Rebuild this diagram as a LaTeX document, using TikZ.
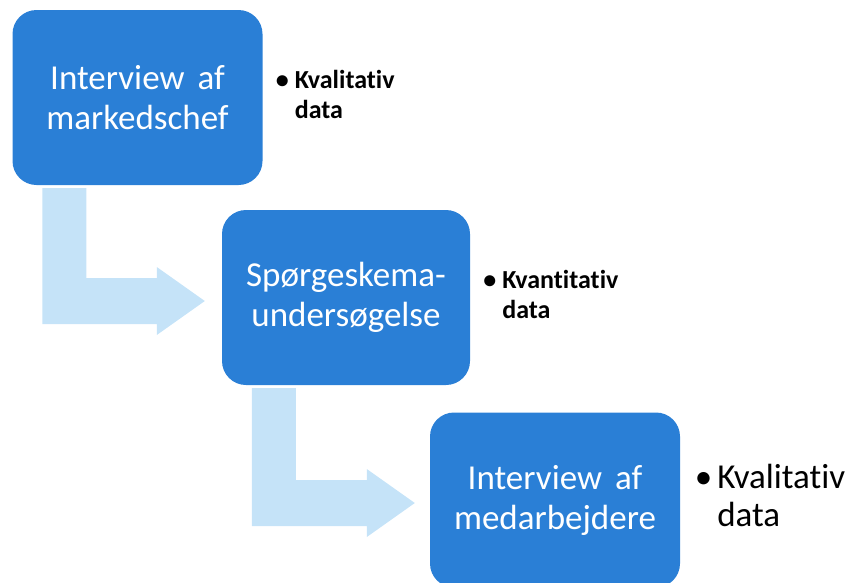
\documentclass[tikz,border=0pt]{standalone}
\usepackage{fontspec}
\setmainfont{Carlito}[RawFeature={-liga}]
\usetikzlibrary{calc}
\definecolor{boxblue}{RGB}{42,127,214}
\definecolor{arrowblue}{RGB}{197,227,248}
\tikzset{
  stepbox/.style={fill=boxblue, rounded corners=24pt, minimum width=250pt,
    minimum height=175pt, text=white, align=center, inner sep=0pt,
    font=\fontsize{35}{40}\selectfont},
  bentarrow/.style={fill=arrowblue},
  note/.style={anchor=west, inner sep=0pt, align=left},
  smallnote/.style={note, font=\bfseries\fontsize{26}{30}\selectfont},
  bignote/.style={note, font=\fontsize{35}{38}\selectfont},
}
\begin{document}
\begin{tikzpicture}[x=1pt,y=-1pt]
\clip (0,0) rectangle (850,582);
\node[stepbox] (b1) at (137.5,97.5) {Interview\hspace{13pt}af\\markedschef};
\node[stepbox, minimum width=248pt] (b2) at (346,297.5) {Spørgeskema-\\undersøgelse};
\node[stepbox] (b3) at (555,500) {Interview\hspace{13pt}af\\medarbejdere};
% bent arrows
\coordinate (s1) at ($(b1.south west)+(30,3)$);
\coordinate (t1) at ($(b2.west)+(-17,3.5)$);
\coordinate (s2) at ($(b2.south west)+(30,3)$);
\coordinate (t2) at ($(b3.west)+(-15,3)$);
\fill[bentarrow] let \p1=(s1), \p2=(t1) in
  (\x1,\y1) -- (\x1+44pt,\y1) -- (\x1+44pt,\y2+23pt) -- (\x2-48pt,\y2+23pt)
  -- (\x2-48pt,\y2+34pt) -- (\x2,\y2) -- (\x2-48pt,\y2-34pt)
  -- (\x2-48pt,\y2-23pt) -- (\x1,\y2-23pt) -- cycle;
\fill[bentarrow] let \p1=(s2), \p2=(t2) in
  (\x1,\y1) -- (\x1+44pt,\y1) -- (\x1+44pt,\y2+23pt) -- (\x2-48pt,\y2+23pt)
  -- (\x2-48pt,\y2+34pt) -- (\x2,\y2) -- (\x2-48pt,\y2-34pt)
  -- (\x2-48pt,\y2-23pt) -- (\x1,\y2-23pt) -- cycle;
% notes
\node[smallnote] (l1) at ($(b1.east)+(13,0)$)
  {\begin{tabular}{@{}l@{\hspace{6pt}}l@{}}•&Kvalitativ\\&data\end{tabular}};
\node[smallnote] (l2) at ($(b2.east)+(13,0)$)
  {\begin{tabular}{@{}l@{\hspace{6pt}}l@{}}•&Kvantitativ\\&data\end{tabular}};
\node[bignote] (l3) at ($(b3.east)+(14.5,0)$)
  {\begin{tabular}{@{}l@{\hspace{5pt}}l@{}}•&Kvalitativ\\&data\end{tabular}};
\end{tikzpicture}
\end{document}
